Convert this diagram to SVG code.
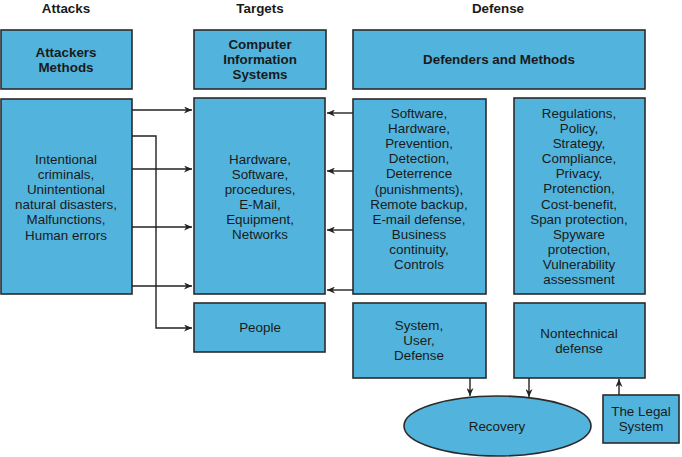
<svg xmlns="http://www.w3.org/2000/svg" width="682" height="457" viewBox="0 0 682 457">
<defs>
<marker id="ah" viewBox="0 0 10 10" refX="10" refY="5" markerWidth="8" markerHeight="7" markerUnits="userSpaceOnUse" orient="auto" preserveAspectRatio="none">
<path d="M0,0 L10,5 L0,10 L3,5 Z" fill="#222"/>
</marker>
<style>
.box{fill:#52b4dc;stroke:#2b2b2b;stroke-width:1.6}
text{font-family:"Liberation Sans",Arial,sans-serif;font-size:13.4px;fill:#1a1a1a;text-anchor:middle;dominant-baseline:central}
.b{font-weight:bold;font-size:13.4px}
.c{fill:none;stroke:#222;stroke-width:1.4}
</style>
</defs>
<rect width="682" height="457" fill="#fff"/>
<g id="headers">
<text class="b" x="66" y="8">Attacks</text>
<text class="b" x="260" y="8">Targets</text>
<text class="b" x="498" y="8">Defense</text>
</g>
<g id="attackers-methods"><rect class="box" x="1" y="30" width="131" height="59"/>
<text class="b" x="66" y="52">Attackers</text><text class="b" x="66" y="67">Methods</text></g>
<g id="cis"><rect class="box" x="194" y="30" width="132" height="59"/>
<text class="b" x="260" y="44">Computer</text><text class="b" x="260" y="59">Information</text><text class="b" x="260" y="74">Systems</text></g>
<g id="defenders"><rect class="box" x="353" y="30" width="292" height="59"/>
<text class="b" x="499" y="59">Defenders and Methods</text></g>
<g id="attacks-body"><rect class="box" x="1" y="99" width="131" height="195"/>
<text x="66" y="159">Intentional</text><text x="66" y="174">criminals,</text><text x="66" y="189">Unintentional</text><text x="66" y="204">natural disasters,</text><text x="66" y="219">Malfunctions,</text><text x="66" y="235">Human errors</text></g>
<g id="targets-body"><rect class="box" x="194" y="98" width="131" height="196"/>
<text x="260" y="159">Hardware,</text><text x="260" y="174">Software,</text><text x="260" y="189">procedures,</text><text x="260" y="204">E-Mail,</text><text x="260" y="219">Equipment,</text><text x="260" y="234">Networks</text></g>
<g id="people"><rect class="box" x="194" y="303" width="131" height="49"/>
<text x="260" y="327">People</text></g>
<g id="defense-tech"><rect class="box" x="353" y="99" width="133" height="195"/>
<text x="419" y="113">Software,</text><text x="419" y="128">Hardware,</text><text x="419" y="143">Prevention,</text><text x="419" y="158">Detection,</text><text x="419" y="173">Deterrence</text><text x="419" y="189">(punishments),</text><text x="419" y="204">Remote backup,</text><text x="419" y="219">E-mail defense,</text><text x="419" y="234">Business</text><text x="419" y="249">continuity,</text><text x="419" y="264">Controls</text></g>
<g id="defense-nontech"><rect class="box" x="514" y="98" width="131" height="196"/>
<text x="579" y="113">Regulations,</text><text x="579" y="128">Policy,</text><text x="579" y="143">Strategy,</text><text x="579" y="158">Compliance,</text><text x="579" y="173">Privacy,</text><text x="579" y="188">Protenction,</text><text x="579" y="204">Cost-benefit,</text><text x="579" y="219">Span protection,</text><text x="579" y="234">Spyware</text><text x="579" y="249">protection,</text><text x="579" y="264">Vulnerability</text><text x="579" y="279">assessment</text></g>
<g id="system-user"><rect class="box" x="353" y="303" width="133" height="75"/>
<text x="419" y="325">System,</text><text x="419" y="340">User,</text><text x="419" y="355">Defense</text></g>
<g id="nontechnical"><rect class="box" x="514" y="303" width="131" height="75"/>
<text x="579" y="333">Nontechnical</text><text x="579" y="348">defense</text></g>
<g id="recovery"><ellipse class="box" cx="497.5" cy="426" rx="93.5" ry="30"/>
<text x="497" y="426">Recovery</text></g>
<g id="legal"><rect class="box" x="603" y="395" width="76" height="48"/>
<text x="641" y="411">The Legal</text><text x="641" y="426">System</text></g>
<g id="connectors">
<path class="c" d="M132,110 H192" marker-end="url(#ah)"/>
<path class="c" d="M132,169 H192" marker-end="url(#ah)"/>
<path class="c" d="M132,227 H192" marker-end="url(#ah)"/>
<path class="c" d="M132,286 H192" marker-end="url(#ah)"/>
<path class="c" d="M132,136 H156 V328 H192" marker-end="url(#ah)"/>
<path class="c" d="M353,113 H327" marker-end="url(#ah)"/>
<path class="c" d="M353,171 H327" marker-end="url(#ah)"/>
<path class="c" d="M353,230 H327" marker-end="url(#ah)"/>
<path class="c" d="M353,290 H327" marker-end="url(#ah)"/>
<path class="c" d="M470,378 V396" marker-end="url(#ah)"/>
<path class="c" d="M529,378 V397" marker-end="url(#ah)"/>
<path class="c" d="M619,395 V379" marker-end="url(#ah)"/>
</g>
</svg>
